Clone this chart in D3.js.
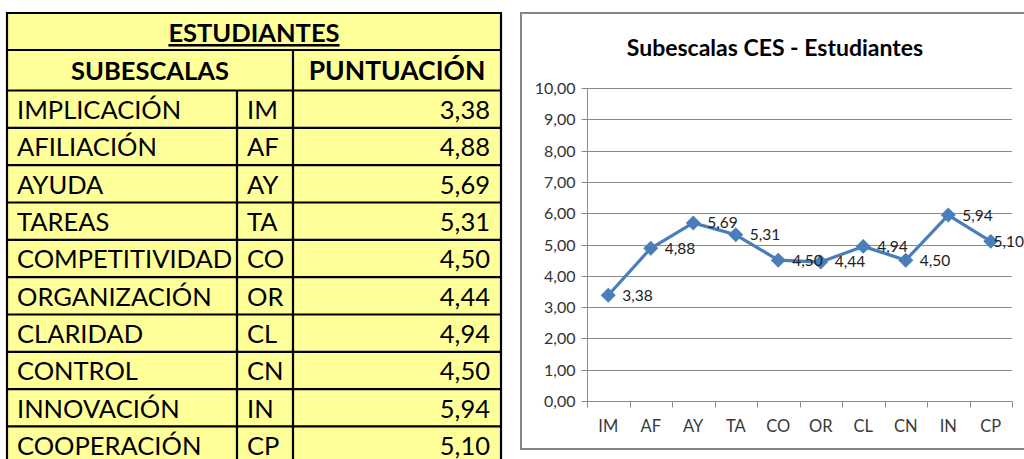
<!DOCTYPE html>
<html><head><meta charset="utf-8">
<script src="https://cdn.jsdelivr.net/npm/d3@7"></script>
<style>html,body{margin:0;padding:0;background:#fff;}svg{display:block;}</style>
</head><body>
<svg id="c" width="1024" height="459"></svg>
<script>
const tableTitle = "ESTUDIANTES";
const headers = ["SUBESCALAS", "PUNTUACIÓN"];
const names = ["IMPLICACIÓN","AFILIACIÓN","AYUDA","TAREAS","COMPETITIVIDAD","ORGANIZACIÓN","CLARIDAD","CONTROL","INNOVACIÓN","COOPERACIÓN"];
const codes = ["IM","AF","AY","TA","CO","OR","CL","CN","IN","CP"];
const values = [3.38,4.88,5.69,5.31,4.50,4.44,4.94,4.50,5.94,5.10];
const yTicks = [0,1,2,3,4,5,6,7,8,9,10];
const chartTitle = "Subescalas CES - Estudiantes";

const loc = d3.formatLocale({decimal: ",", thousands: ".", grouping: [3], currency: ["", "€"]});
const fmt = loc.format(".2f");

const svg = d3.select("#c");
const F = "Lato, 'Open Sans', sans-serif";

// ---------- TABLE ----------
const colX = [7, 237, 293, 501];
const rowTop = [13, 50, 90.5];
const rowH = 37.33;
for (let i = 1; i <= names.length; i++) rowTop.push(90.5 + i * rowH);
const tg = svg.append("g");
tg.append("rect").attr("x", colX[0]).attr("y", 13).attr("width", colX[3]-colX[0]).attr("height", 470)
  .attr("fill", "#FFFF99");
tg.selectAll("line.h").data(rowTop).join("line")
  .attr("x1", colX[0]).attr("x2", colX[3]).attr("y1", d => d).attr("y2", d => d)
  .attr("stroke", "#000").attr("stroke-width", 2.2);
[colX[0], colX[3]].forEach(xx => tg.append("line").attr("x1", xx).attr("x2", xx).attr("y1", 12).attr("y2", 470)
  .attr("stroke", "#000").attr("stroke-width", 2.2));
tg.append("line").attr("x1", colX[2]).attr("x2", colX[2]).attr("y1", 50).attr("y2", 470).attr("stroke", "#000").attr("stroke-width", 2.2);
tg.append("line").attr("x1", colX[1]).attr("x2", colX[1]).attr("y1", 90.5).attr("y2", 470).attr("stroke", "#000").attr("stroke-width", 2.2);

tg.append("text").attr("x", (colX[0]+colX[3])/2).attr("y", 42).attr("text-anchor", "middle")
  .attr("font-family", F).attr("font-weight", "bold").attr("font-size", 25.5)
  .attr("text-decoration", "underline").text(tableTitle);
tg.append("text").attr("x", (colX[0]+colX[2])/2).attr("y", 80).attr("text-anchor", "middle")
  .attr("font-family", F).attr("font-weight", "bold").attr("font-size", 25.5).text(headers[0]);
tg.append("text").attr("x", (colX[2]+colX[3])/2).attr("y", 80).attr("text-anchor", "middle")
  .attr("font-family", F).attr("font-weight", "bold").attr("font-size", 26.5).text(headers[1]);

const rows = tg.selectAll("g.row").data(names.map((n,i)=>({n, c: codes[i], v: values[i], y: rowTop[i+2]})))
  .join("g");
rows.append("text").attr("x", 17).attr("y", d => d.y + 28.5).attr("font-family", F).attr("font-size", 25.5).text(d => d.n);
rows.append("text").attr("x", 247).attr("y", d => d.y + 28.5).attr("font-family", F).attr("font-size", 25.5).text(d => d.c);
rows.append("text").attr("x", 490).attr("y", d => d.y + 28.5).attr("text-anchor", "end").attr("font-family", F).attr("font-size", 25.5).text(d => fmt(d.v));

// ---------- CHART ----------
const frame = {x: 521, y: 13, w: 520, h: 436};
const cg = svg.append("g");
cg.append("rect").attr("x", frame.x).attr("y", frame.y).attr("width", frame.w).attr("height", frame.h)
  .attr("fill", "#fff").attr("stroke", "#868686").attr("stroke-width", 2);
cg.append("text").attr("x", 775).attr("y", 56).attr("text-anchor", "middle")
  .attr("font-family", F).attr("font-weight", "bold").attr("font-size", 23).attr("fill", "#000").text(chartTitle);

const x = d3.scaleBand().domain(codes).range([587, 1012]).padding(0);
const y = d3.scaleLinear().domain([0, 10]).range([401, 88]);

// gridlines
cg.append("g").selectAll("line").data(yTicks).join("line")
  .attr("x1", 587).attr("x2", 1012).attr("y1", d => Math.round(y(d)) + 0.5).attr("y2", d => Math.round(y(d)) + 0.5)
  .attr("stroke", "#8a8a8a").attr("stroke-width", 1);

// y axis
const ya = cg.append("g").attr("transform", "translate(587.5,0)")
  .call(d3.axisLeft(y).tickValues(yTicks).tickFormat(fmt).tickSize(6).tickPadding(6));
ya.select(".domain").attr("stroke", "#8a8a8a").attr("d", `M0,${y(10)}V${y(0)+6}`);
ya.selectAll(".tick line").attr("stroke", "#8a8a8a");
ya.selectAll(".tick").attr("transform", d => `translate(0,${Math.round(y(d)) + 0.5})`);
ya.selectAll(".tick text").attr("font-family", F).attr("font-size", 16).attr("fill", "#333");

// x axis
const xa = cg.append("g").attr("transform", `translate(0,${Math.round(y(0)) + 0.5})`)
  .call(d3.axisBottom(x).tickSize(0).tickPadding(19));
xa.select(".domain").remove();
xa.selectAll(".tick text").attr("font-family", F).attr("font-size", 16.5).attr("fill", "#3a3a3a");
const bounds = codes.map(c => x(c)).concat([x.range()[1]]);
xa.append("g").selectAll("line").data(bounds).join("line")
  .attr("x1", d => Math.round(d) + 0.5).attr("x2", d => Math.round(d) + 0.5).attr("y1", 0).attr("y2", 6)
  .attr("stroke", "#8a8a8a");

// line
const cx = c => x(c) + x.bandwidth() / 2;
const pts = codes.map((c, i) => ({c, v: values[i]}));
cg.append("path").datum(pts)
  .attr("d", d3.line().x(d => cx(d.c)).y(d => y(d.v)))
  .attr("fill", "none").attr("stroke", "#4A7EBB").attr("stroke-width", 3.2).attr("stroke-linejoin", "round");
cg.append("g").selectAll("path").data(pts).join("path")
  .attr("d", d3.symbol(d3.symbolSquare, 112))
  .attr("transform", d => `translate(${cx(d.c)},${y(d.v)}) rotate(45)`)
  .attr("fill", "#4A7EBB");

// data labels
const lbl = cg.append("g").selectAll("text").data(pts).join("text")
  .attr("y", d => y(d.v)).attr("dy", "0.35em")
  .attr("font-family", F).attr("font-size", 15.5).attr("fill", "#222")
  .text(d => fmt(d.v));
lbl.attr("x", function(d) {
  const w = this.getComputedTextLength();
  return Math.min(cx(d.c) + 14, 1024 - w);
});
</script>
</body></html>
